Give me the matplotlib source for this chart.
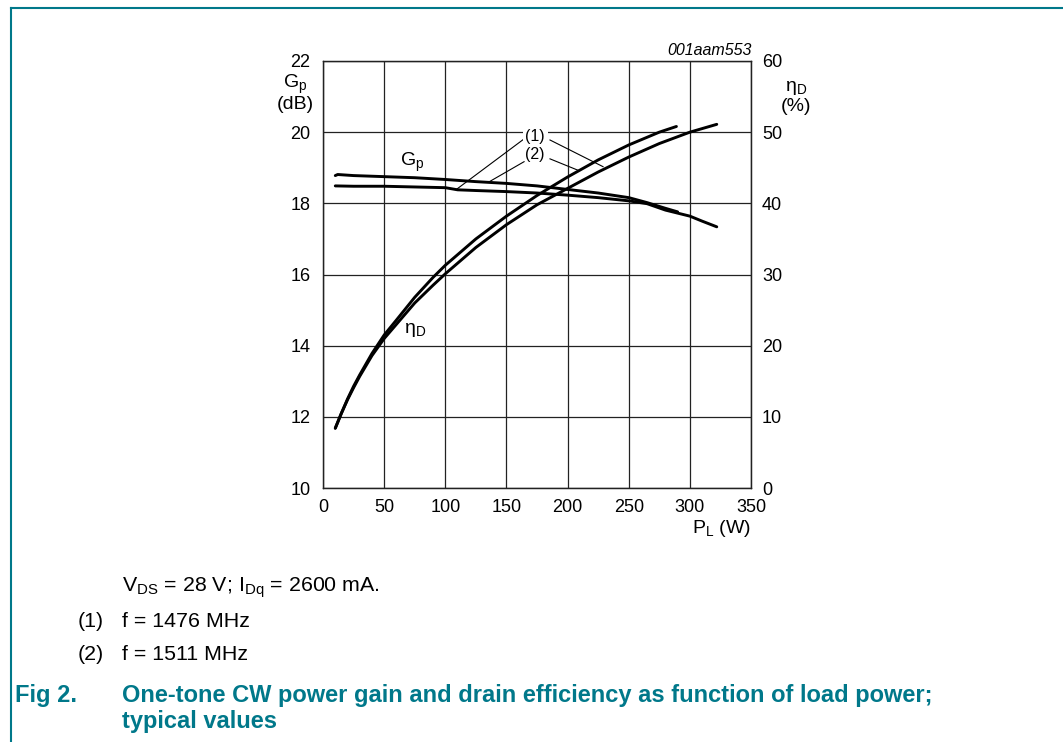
import matplotlib.pyplot as plt
from matplotlib.lines import Line2D

plt.rcParams['font.family'] = ['Liberation Sans', 'DejaVu Sans']
plt.rcParams['mathtext.fontset'] = 'custom'
plt.rcParams['mathtext.rm'] = 'Liberation Sans'

teal = '#00788A'

# power gain, dB
p_gp1 = [10, 25, 50, 75, 100, 110, 125, 150, 175, 200, 225, 250, 265, 280, 300, 310, 322]
gp1 = [18.49, 18.48, 18.48, 18.46, 18.44, 18.38, 18.36, 18.33, 18.29, 18.23, 18.16, 18.07,
       17.99, 17.81, 17.64, 17.5, 17.34]
p_gp2 = [10, 12, 25, 50, 75, 100, 125, 150, 175, 200, 225, 250, 265, 280, 290]
gp2 = [18.78, 18.81, 18.78, 18.75, 18.72, 18.67, 18.61, 18.56, 18.49, 18.39, 18.29, 18.16,
       18.02, 17.86, 17.76]

# drain efficiency, %
p_eta1 = [10, 15, 20, 25, 30, 40, 50, 60, 75, 90, 100, 125, 150, 175, 200, 225, 250, 275,
          300, 322]
eta1 = [8.4, 10.5, 12.4, 14.1, 15.7, 18.6, 21.0, 23.0, 26.0, 28.5, 30.1, 33.8, 37.0, 39.8,
        42.1, 44.4, 46.5, 48.4, 50.0, 51.1]
p_eta2 = [10, 15, 20, 25, 30, 40, 50, 60, 75, 90, 100, 125, 150, 175, 200, 225, 250, 275, 289]
eta2 = [8.4, 10.5, 12.5, 14.3, 15.9, 18.9, 21.5, 23.6, 26.8, 29.6, 31.3, 35.0, 38.2, 41.1,
        43.7, 46.1, 48.2, 50.0, 50.8]

x_ticks = [0, 50, 100, 150, 200, 250, 300, 350]
gp_ticks = [10, 12, 14, 16, 18, 20, 22]
eta_ticks = [0, 10, 20, 30, 40, 50, 60]

fig = plt.figure(figsize=(10.63, 7.42), dpi=100)
ax = fig.add_axes([0.3039, 0.3423, 0.4026, 0.5755])
ax2 = ax.twinx()

ax.set_xlim(0, 350)
ax.set_ylim(10, 22)
ax2.set_ylim(0, 60)
ax.set_xticks(x_ticks)
ax.set_yticks(gp_ticks)
ax2.set_yticks(eta_ticks)
ax.grid(True, color='#222222', lw=0.9)
ax.tick_params(length=0, labelsize=13, pad=8)
ax.tick_params(axis='y', pad=9)
ax2.tick_params(length=0, labelsize=13, pad=8)
for a in (ax, ax2):
    for s in a.spines.values():
        s.set_linewidth(0.9)
        s.set_color('#222222')

ax.plot(p_gp1, gp1, color='black', lw=2.1, solid_capstyle='round', zorder=3)
ax.plot(p_gp2, gp2, color='black', lw=2.1, solid_capstyle='round', zorder=3)
ax2.plot(p_eta1, eta1, color='black', lw=2.1, solid_capstyle='round', zorder=3)
ax2.plot(p_eta2, eta2, color='black', lw=2.1, solid_capstyle='round', zorder=3)

# curve labels and callout lines
ax.text(73, 19.16, r'G$_\mathregular{p}$', fontsize=14, ha='center', va='center')
ax.text(75, 14.44, r'η$_\mathregular{D}$', fontsize=14, ha='center', va='center')
ax.text(173.4, 19.87, '(1)', fontsize=11.5, ha='center', va='center', zorder=4,
        bbox=dict(facecolor='white', edgecolor='none', pad=2))
ax.text(173.4, 19.36, '(2)', fontsize=11.5, ha='center', va='center', zorder=4)
lw_c = 0.8
ax.plot([164.4, 109.4], [19.81, 18.40], color='black', lw=lw_c)
ax.plot([185.6, 229], [19.78, 19.03], color='black', lw=lw_c)
ax.plot([164.4, 136.6], [19.17, 18.62], color='black', lw=lw_c)
ax.plot([185.6, 208.5], [19.25, 18.93], color='black', lw=lw_c)

# axis titles
fig.text(0.2775, 0.8868, r'G$_\mathregular{p}$', fontsize=14, ha='center', va='center')
fig.text(0.2775, 0.8598, '(dB)', fontsize=14, ha='center', va='center')
fig.text(0.749, 0.8814, r'η$_\mathregular{D}$', fontsize=14, ha='center', va='center')
fig.text(0.749, 0.8571, '(%)', fontsize=14, ha='center', va='center')
fig.text(0.679, 0.2884, r'P$_\mathregular{L}$ (W)', fontsize=14, ha='center', va='center')
fig.text(0.7074, 0.9326, '001aam553', fontsize=11.5, style='italic', ha='right', va='center')

# caption
fig.text(0.1148, 0.2085, r'V$_\mathregular{DS}$ = 28 V; I$_\mathregular{Dq}$ = 2600 mA.',
         fontsize=15.4, va='center')
fig.text(0.0734, 0.163, '(1)', fontsize=15.4, va='center')
fig.text(0.1148, 0.163, 'f = 1476 MHz', fontsize=15.4, va='center')
fig.text(0.0734, 0.1173, '(2)', fontsize=15.4, va='center')
fig.text(0.1148, 0.1173, 'f = 1511 MHz', fontsize=15.4, va='center')
fig.text(0.0141, 0.0633, 'Fig 2.', fontsize=17, weight='bold', color=teal, va='center')
fig.text(0.1148, 0.0633, 'One-tone CW power gain and drain efficiency as function of load power;',
         fontsize=17, weight='bold', color=teal, va='center')
fig.text(0.1148, 0.027, 'typical values', fontsize=17, weight='bold', color=teal, va='center')

# frame
fig.add_artist(Line2D([0.0099, 1.0], [0.989, 0.989], color=teal, lw=1.5))
fig.add_artist(Line2D([0.0099, 0.0099], [0.0, 0.989], color=teal, lw=1.5))

fig.savefig('out.png', dpi=100)
